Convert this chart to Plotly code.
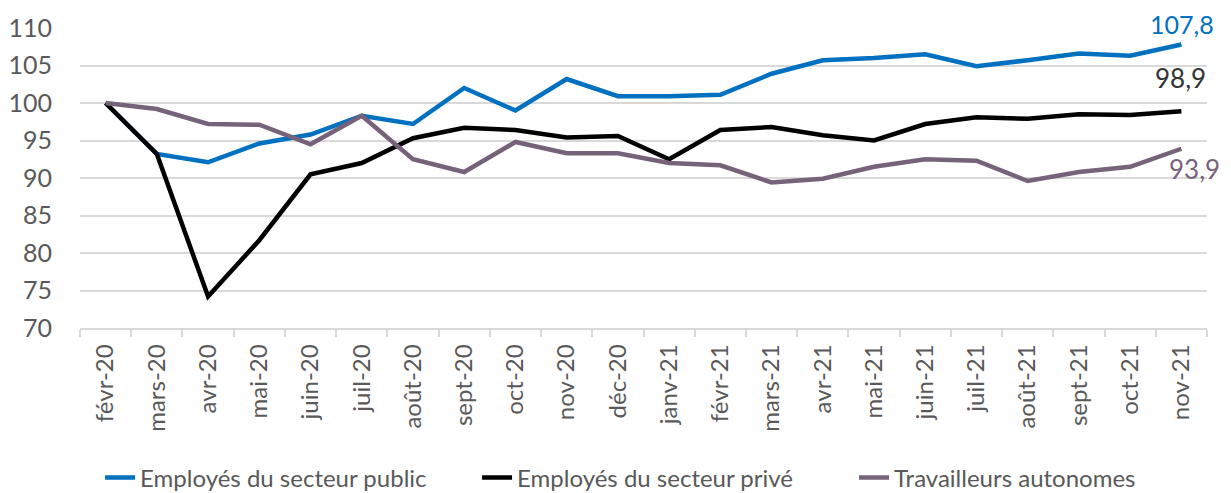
import plotly.graph_objects as go

months = ["févr-20", "mars-20", "avr-20", "mai-20", "juin-20", "juil-20", "août-20",
          "sept-20", "oct-20", "nov-20", "déc-20", "janv-21", "févr-21", "mars-21",
          "avr-21", "mai-21", "juin-21", "juil-21", "août-21", "sept-21", "oct-21", "nov-21"]

public = [100, 93.2, 92.1, 94.6, 95.8, 98.3, 97.2, 102.0, 99.0, 103.2, 100.9, 100.9,
          101.1, 103.9, 105.7, 106.0, 106.5, 104.9, 105.7, 106.6, 106.3, 107.8]
private = [100, 93.2, 74.2, 81.7, 90.5, 92.0, 95.3, 96.7, 96.4, 95.4, 95.6, 92.5,
           96.4, 96.8, 95.7, 95.0, 97.2, 98.1, 97.9, 98.5, 98.4, 98.9]
autonomes = [100, 99.2, 97.2, 97.1, 94.5, 98.3, 92.5, 90.8, 94.8, 93.3, 93.3, 92.0,
             91.7, 89.4, 89.9, 91.5, 92.5, 92.3, 89.6, 90.8, 91.5, 93.9]

names = ["Employés du secteur public", "Employés du secteur privé", "Travailleurs autonomes"]
colors = ["#0070C0", "#000000", "#76627A"]
series = [public, private, autonomes]

FONT = "Lato"
fig = go.Figure()
for name, vals, col in zip(names, series, colors):
    fig.add_trace(go.Scatter(x=months, y=vals, mode="lines", name=name,
                             line=dict(color=col, width=4.5)))

fig.add_annotation(x=months[-1], y=public[-1], text="107,8", showarrow=False,
                   xanchor="center", yanchor="middle", xshift=1, yshift=21, borderpad=0,
                   font=dict(family=FONT, size=25, color="#0070C0"))
fig.add_annotation(x=months[-1], y=private[-1], text="98,9", showarrow=False,
                   xanchor="center", yanchor="middle", xshift=-1, yshift=33,
                   font=dict(family=FONT, size=26, color="#333333"))
fig.add_annotation(x=months[-1], y=autonomes[-1], text="93,9", showarrow=False,
                   xanchor="center", yanchor="middle", xshift=13, yshift=-20,
                   font=dict(family=FONT, size=26, color="#76627A"))

fig.update_layout(
    width=1223, height=485,
    margin=dict(l=72, r=24, t=20, b=165, autoexpand=False),
    paper_bgcolor="white", plot_bgcolor="white",
    font=dict(family=FONT, color="#595959"),
    showlegend=True,
    legend=dict(orientation="h", x=0.0178, xanchor="left", y=-0.5, yanchor="middle",
                font=dict(family=FONT, size=24, color="#595959"),
                entrywidth=332, entrywidthmode="pixels", tracegroupgap=0),
    xaxis=dict(type="category", range=[-0.5, 21.5], tickangle=-90, automargin=False,
               tickfont=dict(family=FONT, size=24, color="#595959"),
               showgrid=False, showline=True, linecolor="#D9D9D9", linewidth=1.5,
               ticks="outside", tickson="boundaries", ticklen=7, tickcolor="#D9D9D9",
               tickwidth=1.5, ticklabelstandoff=5),
    yaxis=dict(range=[70, 110], dtick=5, automargin=False,
               tickfont=dict(family=FONT, size=25, color="#595959"),
               showgrid=True, gridcolor="#D9D9D9", gridwidth=1.5, zeroline=False,
               showline=False, ticks="", ticklabelstandoff=27),
)

fig.write_html("out.html")
